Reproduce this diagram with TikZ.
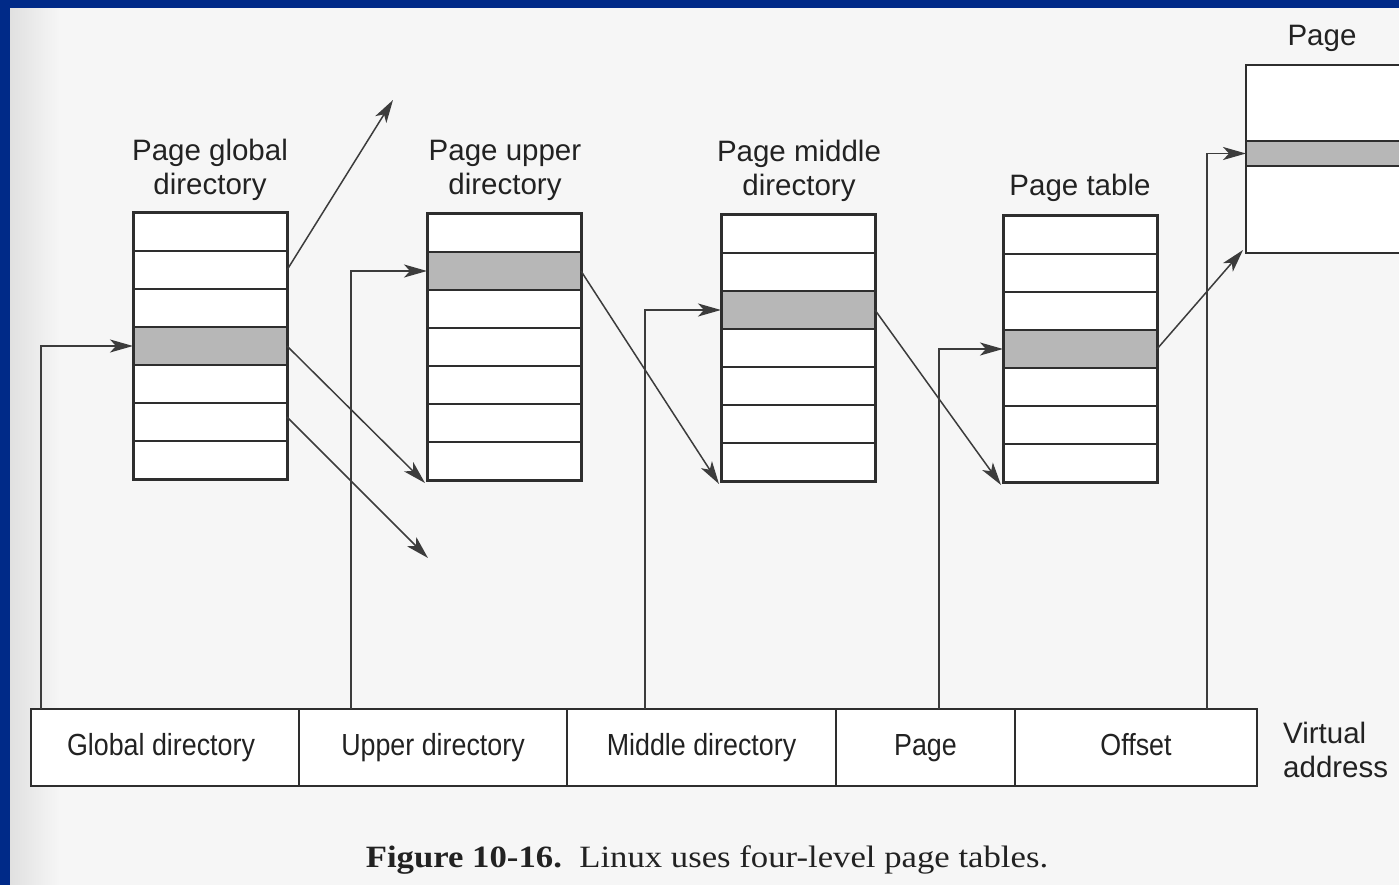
\documentclass[tikz,border=0pt]{standalone}
\usepackage{fontspec}
\setmainfont{Liberation Serif}
\setsansfont{Liberation Sans}
\newfontfamily\fieldfont[FakeStretch=0.88]{Liberation Sans}
\newfontfamily\capfont[FakeStretch=1.12]{Liberation Serif}
\usetikzlibrary{arrows.meta}

\definecolor{ink}{HTML}{2E2E2E}
\definecolor{wire}{HTML}{3C3C3C}
\definecolor{words}{HTML}{222222}
\definecolor{shade}{HTML}{B7B7B7}
\definecolor{paper}{HTML}{F6F6F6}
\definecolor{frame}{HTML}{002A88}

\tikzset{
  entry/.style={draw=ink, line width=1.8pt, fill=white, minimum width=154pt,
    minimum height=38pt, inner sep=0pt, outer sep=0pt},
  hot/.style={entry, fill=shade},
  tablebox/.style={draw=ink, line width=3pt, inner sep=0pt, outer sep=0pt},
  field/.style={draw=ink, line width=1.4pt, fill=white, minimum height=77pt,
    inner sep=0pt, outer sep=0pt, text height=22pt, text depth=7pt,
    font=\fieldfont\fontsize{30.5}{36}\selectfont, text=words},
  title/.style={align=center, font=\sffamily\fontsize{29.5}{34}\selectfont,
    text=words, inner sep=0pt},
  link/.style={draw=wire, line width=1.5pt,
    -{Stealth[length=23pt, width=13pt, inset=6pt]}},
}

\begin{document}
\begin{tikzpicture}[x=1pt, y=-1pt]
  \useasboundingbox (0,0) rectangle (1399,885);
  \fill[paper] (0,0) rectangle (1399,885);
  \fill[left color=black!12, right color=paper] (10,8) rectangle (60,885);
  \fill[frame] (0,0) rectangle (10,885);
  \fill[frame] (0,0) rectangle (1399,8);

  % page global directory
  \foreach \r/\y in {1/232,2/270,3/308,5/384,6/422,7/460}
    \node[entry] (a\r) at (210,\y) {};
  \node[hot] (a4) at (210,346) {};
  \draw[tablebox] (a1.north west) rectangle (a7.south east);

  % page upper directory
  \foreach \r/\y in {1/233,3/309,4/347,5/385,6/423,7/461}
    \node[entry] (b\r) at (504,\y) {};
  \node[hot] (b2) at (504,271) {};
  \draw[tablebox] (b1.north west) rectangle (b7.south east);

  % page middle directory
  \foreach \r/\y in {1/234,2/272,4/348,5/386,6/424,7/462}
    \node[entry] (c\r) at (798,\y) {};
  \node[hot] (c3) at (798,310) {};
  \draw[tablebox] (c1.north west) rectangle (c7.south east);

  % page table
  \foreach \r/\y in {1/235,2/273,3/311,5/387,6/425,7/463}
    \node[entry] (d\r) at (1080,\y) {};
  \node[hot] (d4) at (1080,349) {};
  \draw[tablebox] (d1.north west) rectangle (d7.south east);

  % the page itself
  \node[draw=ink, line width=1.4pt, fill=white, minimum width=200pt,
    minimum height=188pt, inner sep=0pt, outer sep=0pt] (pg) at (1346,159) {};
  \node[draw=ink, line width=1.4pt, fill=shade, minimum width=200pt,
    minimum height=25pt, inner sep=0pt, outer sep=0pt] (pgrow) at (1346,153.5) {};

  % headings
  \node[title] (ta) at (210,170) {Page global\\directory};
  \node[title] (tb) at (505,170) {Page upper\\directory};
  \node[title] (tc) at (799,171) {Page middle\\directory};
  \node[title] (td) at (1080,188) {Page table};
  \node[title] (te) at (1322,38) {Page};

  % virtual address fields
  \node[field, minimum width=268pt] (f1) at (165,747.5) {\hspace*{-8pt}Global directory};
  \node[field, minimum width=268pt] (f2) at (433,747.5) {Upper directory};
  \node[field, minimum width=269pt] (f3) at (701.5,747.5) {Middle directory};
  \node[field, minimum width=179pt] (f4) at (925.5,747.5) {Page};
  \node[field, minimum width=242pt] (f5) at (1136,747.5) {Offset};
  \draw[ink, line width=2.6pt] (f1.north west) rectangle (f5.south east);
  \node[title, align=left, anchor=west] (va) at (1283,750) {Virtual\\address};

  % index lookups
  \draw[link] ([xshift=10pt]f1.north west) |- (a4.west);
  \draw[link] ([xshift=52pt]f2.north west) |- (b2.west);
  \draw[link] ([xshift=78pt]f3.north west) |- (c3.west);
  \draw[link] ([xshift=103pt]f4.north west) |- (d4.west);
  \draw[link] ([xshift=192pt]f5.north west) |- (pgrow.west);

  % pointers to the next level
  \coordinate (upA) at (393,100);
  \coordinate (dnA) at (428,558);
  \draw[link] (a2.east) -- (upA);
  \draw[link] (a4.east) -- ([shift={(-2pt,-3pt)}]b7.south west);
  \draw[link] ([yshift=5pt]a6.east) -- (dnA);
  \draw[link] (b2.east) -- ([shift={(-2pt,-3pt)}]c7.south west);
  \draw[link] (c3.east) -- ([shift={(-2pt,-3pt)}]d7.south west);
  \draw[link] (d4.east) -- ([shift={(-3pt,3pt)}]pg.south west);

  % caption
  \node[font=\capfont\fontsize{31}{36}\selectfont, text=words, inner sep=0pt,
    anchor=base] (cap) at (707,867)
    {\textbf{Figure 10-16.}\ \ Linux uses four-level page tables.};
\end{tikzpicture}
\end{document}
